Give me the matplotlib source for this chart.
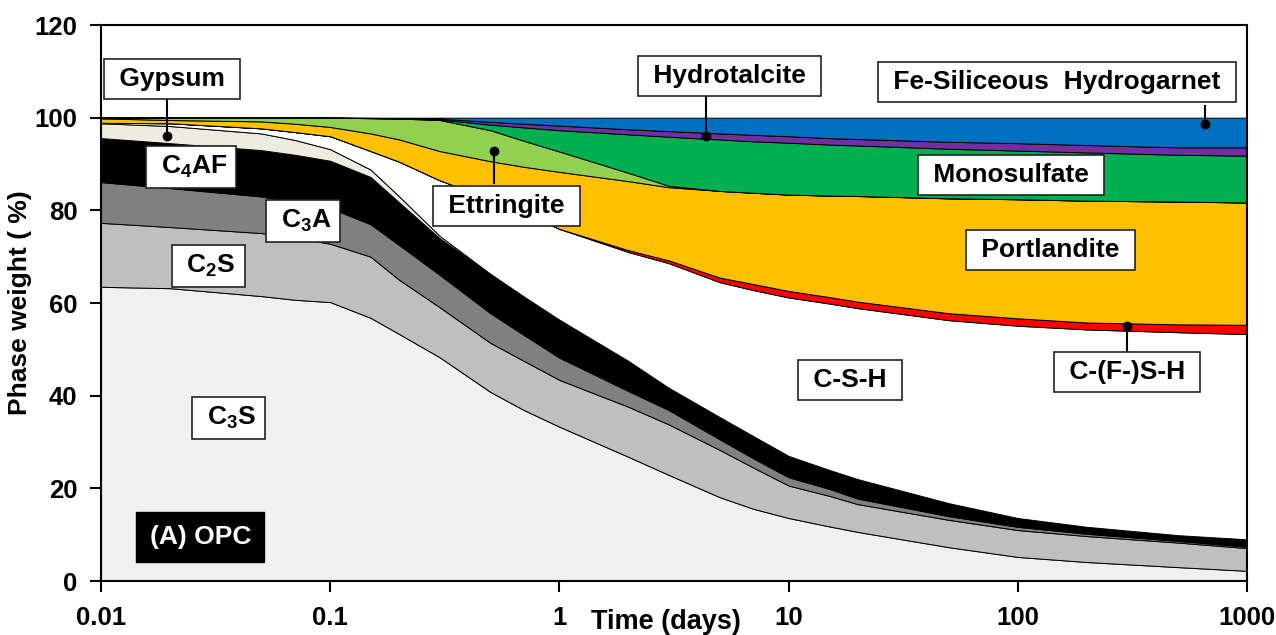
import matplotlib
matplotlib.use("Agg")
import matplotlib.pyplot as plt
from matplotlib.ticker import FixedLocator, NullLocator

plt.rcParams['font.family'] = ['Liberation Sans', 'DejaVu Sans']
plt.rcParams['font.weight'] = 'bold'
plt.rcParams['mathtext.fontset'] = 'custom'
plt.rcParams['mathtext.bf'] = 'Liberation Sans:bold'
plt.rcParams['mathtext.rm'] = 'Liberation Sans:bold'
plt.rcParams['mathtext.default'] = 'bf'

# hydration time (days)
time = [0.01, 0.02, 0.05, 0.07, 0.1, 0.15, 0.2, 0.3, 0.5, 0.7, 1, 2, 3, 5, 7, 10, 15, 20, 50, 100, 200, 500, 1000]

# phase weights (%) at each time, bottom to top of the stack
c3s = [63.5, 63.2, 61.5, 60.7, 60.2, 56.8, 53.3, 48.3, 40.8, 36.9, 33.3, 26.8, 22.9, 18.1, 15.6, 13.6, 11.8, 10.6, 7.3, 5.2, 4.1, 3.0, 2.2]
c2s = [13.8, 13.2, 13.6, 13.4, 12.6, 13.2, 11.7, 10.8, 10.6, 10.6, 10.1, 10.8, 10.9, 10.2, 8.9, 7.0, 6.6, 6.0, 5.9, 5.8, 5.6, 5.3, 4.9]
c3a = [8.8, 8.4, 7.9, 7.7, 7.7, 7.0, 7.5, 7.0, 6.4, 5.6, 4.8, 3.4, 3.1, 2.3, 2.0, 1.8, 1.5, 1.2, 0.8, 0.7, 0.5, 0.35, 0.3]
c4af = [9.5, 9.7, 10.0, 10.2, 10.2, 10.2, 9.2, 7.9, 8.5, 8.3, 8.2, 6.5, 4.8, 4.8, 4.8, 4.6, 4.1, 4.2, 2.8, 1.9, 1.5, 1.25, 1.6]
gypsum = [3.2, 3.7, 3.6, 3.2, 2.5, 1.6, 1.3, 0.5, 0, 0, 0, 0, 0, 0, 0, 0, 0, 0, 0, 0, 0, 0, 0]
csh = [0.1, 0.6, 1.1, 1.7, 2.8, 4.0, 7.5, 12.0, 16.1, 18.2, 19.6, 23.5, 26.9, 29.1, 31.5, 34.2, 35.9, 36.9, 39.5, 41.5, 42.6, 43.8, 44.3]
cfsh = [0, 0, 0, 0, 0, 0, 0, 0, 0, 0, 0, 0.4, 0.6, 1.0, 1.3, 1.4, 1.4, 1.4, 1.5, 1.6, 1.5, 1.7, 2.0]
portlandite = [0.95, 0.7, 1.5, 1.8, 2.0, 3.8, 4.8, 6.3, 8.2, 9.8, 12.3, 14.9, 15.8, 18.7, 19.7, 20.8, 21.9, 22.8, 24.8, 25.7, 26.3, 26.5, 26.4]
ettringite = [0.15, 0.5, 0.8, 1.3, 2.0, 3.3, 4.5, 6.7, 6.7, 5.6, 4.4, 1.8, 0.3, 0, 0, 0, 0, 0, 0, 0, 0, 0, 0]
monosulfate = [0, 0, 0, 0, 0, 0, 0.05, 0.1, 1.2, 2.9, 4.6, 8.3, 10.6, 11.1, 11.1, 11.2, 11.0, 10.9, 10.7, 10.5, 10.4, 10.1, 10.1]
hydrotalcite = [0, 0, 0, 0, 0, 0.05, 0.05, 0.2, 0.6, 0.8, 1.0, 1.1, 1.2, 1.3, 1.4, 1.4, 1.4, 1.4, 1.5, 1.6, 1.6, 1.6, 1.8]
hydrogarnet = [0, 0, 0, 0, 0, 0.05, 0.1, 0.2, 0.9, 1.3, 1.7, 2.5, 2.9, 3.4, 3.7, 4.0, 4.4, 4.6, 5.2, 5.5, 5.9, 6.4, 6.4]

layers = [c3s, c2s, c3a, c4af, gypsum, csh, cfsh, portlandite,
          ettringite, monosulfate, hydrotalcite, hydrogarnet]
colors = ['#F0F0F0', '#BFBFBF', '#808080', '#000000', '#EEECE1', '#FFFFFF',
          '#FF0000', '#FFC000', '#92D050', '#00B050', '#7030A0', '#0070C0']

fig = plt.figure(figsize=(12.76, 6.35), dpi=100)
ax = fig.add_axes([0.0792, 0.085, 0.8981, 0.8756])

ax.stackplot(time, *layers, colors=colors, edgecolor='black', linewidth=0.7)

ax.set_xscale('log')
ax.set_xlim(0.01, 1000)
ax.set_ylim(0, 120)
ax.xaxis.set_major_locator(FixedLocator([0.01, 0.1, 1, 10, 100, 1000]))
ax.xaxis.set_minor_locator(NullLocator())
ax.set_xticklabels(['0.01', '0.1', '1', '10', '100', '1000'])
ax.set_yticks(range(0, 121, 20))
ax.tick_params(axis='both', direction='out', length=8, width=1.5, labelsize=18.5)
ax.tick_params(axis='x', pad=10)
ax.tick_params(axis='y', pad=9)
for lab in ax.get_xticklabels() + ax.get_yticklabels():
    lab.set_fontweight('bold')
for sp in ax.spines.values():
    sp.set_linewidth(1.5)

ax.set_ylabel('Phase weight ( %)', fontsize=19, fontweight='bold', va='center')
ax.yaxis.set_label_coords(-0.0707, 0.5)
ax.set_xlabel('Time (days)', fontsize=19.5, fontweight='bold', va='center')
ax.xaxis.set_label_coords(0.493, -0.074)

box = dict(boxstyle='square,pad=0.3', fc='white', ec='#222222', lw=1.2)

# labels: (text, x, y)
labels = [
    ('Gypsum', 0.0204, 108.4),
    (r'C$_4$AF', 0.0247, 89.4),
    (r'C$_3$A', 0.0762, 77.7),
    (r'C$_2$S', 0.0293, 68.0),
    (r'C$_3$S', 0.0359, 35.2),
    ('Ettringite', 0.587, 80.9),
    ('Hydrotalcite', 5.53, 109.0),
    ('Fe-Siliceous  Hydrogarnet', 148, 107.7),
    ('Monosulfate', 93.1, 87.6),
    ('Portlandite', 139, 71.4),
    ('C-S-H', 18.5, 43.4),
    ('C-(F-)S-H', 299, 45.1),
]
for txt, x, y in labels:
    ax.text(x, y, ' ' + txt + ' ', fontsize=19, fontweight='bold',
            ha='center', va='center', bbox=box, zorder=5)

ax.text(0.0271, 9.5, '(A) OPC', fontsize=19, fontweight='bold', color='white',
        ha='center', va='center', zorder=5,
        bbox=dict(boxstyle='square,pad=0.5', fc='black', ec='black'))

# leader lines from label box to the phase: (x, y_box, y_dot)
leaders = [
    (0.0194, 104.5, 96.0),
    (0.520, 86.0, 92.8),
    (4.38, 104.5, 96.0),
    (655.6, 102.5, 98.6),
    (299, 48.8, 55.0),
]
for x, y0, y1 in leaders:
    ax.plot([x, x], [y0, y1], color='black', lw=1.5, zorder=4)
    ax.plot(x, y1, 'o', color='black', ms=6, zorder=4)

fig.savefig('out.png', dpi=100)
